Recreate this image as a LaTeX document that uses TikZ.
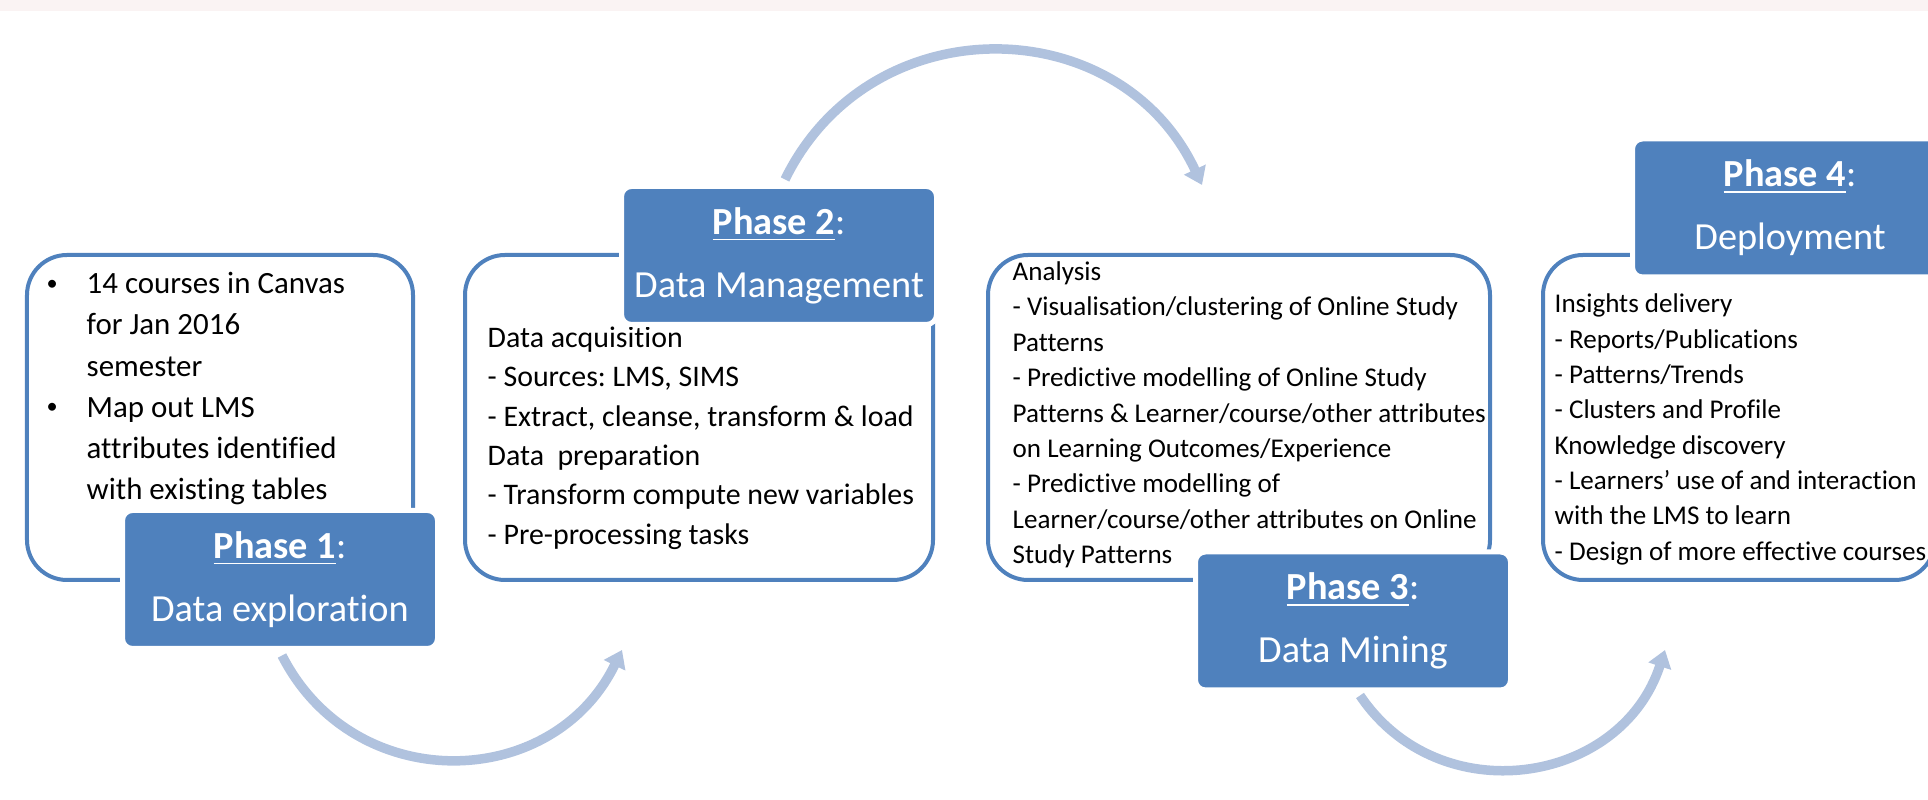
\documentclass[tikz,border=0pt]{standalone}
\usepackage{fontspec}
\setmainfont{Carlito}[Ligatures={NoCommon}]
\usepackage{xcolor}
\usetikzlibrary{arrows.meta}

\definecolor{phaseblue}{RGB}{79,129,189}
\definecolor{flowblue}{RGB}{176,194,222}
\definecolor{topband}{RGB}{250,243,243}

\newcommand{\dotitem}{\raisebox{0.12em}{\scalebox{0.72}{\textbullet}}}
\frenchspacing

\begin{document}
\begin{tikzpicture}[>={Triangle[length=1.7mm,width=2.3mm]},thin]

                \tikzset{card/.style={draw=phaseblue, line width=0.4mm, rounded corners=0.4cm, fill=white, inner sep=0pt, minimum height=3.25cm},
                         phase/.style={draw=white, line width=0.5mm, fill=phaseblue, rounded corners=0.1cm, text=white, align=center, inner sep=0pt, minimum width=3.15cm, minimum height=1.38cm, font=\fontsize{10.9}{17.9}\selectfont},
                         body/.style={anchor=north west, inner sep=0pt},
                         flow/.style={->, draw=flowblue, line width=0.95mm}}

                \useasboundingbox (0,0) rectangle (19.28,8);
                \clip (0,0) rectangle (19.28,8);
                \fill[topband] (0,7.89) rectangle (19.28,8);

                \node[card, minimum width=3.86cm] (b1) at (2.20,3.825) {};
                \node[card, minimum width=4.68cm] (b2) at (6.99,3.825) {};
                \node[card, minimum width=5.02cm] (b3) at (12.39,3.825) {};
                \node[card, minimum width=3.92cm] (b4) at (17.39,3.825) {};

                \node[body, font=\fontsize{8.8}{11.7}\selectfont] (t1) at (0.46,5.357) {\begin{tabular}{@{}p{0.40cm}@{}l@{}}
                    \dotitem & 14 courses in Canvas\\
                             & for Jan 2016\\
                             & semester\\
                    \dotitem & Map out LMS\\
                             & attributes identified\\
                             & with existing tables
                \end{tabular}};
                \node[body, font=\fontsize{8.5}{11.18}\selectfont] (t2) at (4.87,4.805) {\begin{tabular}{@{}l@{}}
                    Data acquisition\\
                    - Sources: LMS, SIMS\\
                    - Extract, cleanse, transform \& load\\
                    Data\ \ preparation\\
                    - Transform compute new variables\\
                    - Pre-processing tasks
                \end{tabular}};
                \node[body, font=\fontsize{7.7}{10.06}\selectfont] (t3) at (10.12,5.448) {\begin{tabular}{@{}l@{}}
                    Analysis\\
                    - Visualisation/clustering of Online Study\\
                    Patterns\\
                    - Predictive modelling of Online Study\\
                    Patterns \& Learner/course/other attributes\\
                    on Learning Outcomes/Experience\\
                    - Predictive modelling of\\
                    Learner/course/other attributes on Online\\
                    Study Patterns
                \end{tabular}};
                \node[body, font=\fontsize{7.7}{10.06}\selectfont] (t4) at (15.54,5.127) {\begin{tabular}{@{}l@{}}
                    Insights delivery\\
                    - Reports/Publications\\
                    - Patterns/Trends\\
                    - Clusters and Profile\\
                    Knowledge discovery\\
                    - Learners’ use of and interaction\\
                    with the LMS to learn\\
                    - Design of more effective courses
                \end{tabular}};

                \node[phase] (p1) at (2.80,2.205) {\underline{\textbf{Phase 1}}:\\ Data exploration};
                \node[phase] (p2) at (7.79,5.445) {\underline{\textbf{Phase 2}}:\\ Data Management};
                \node[phase] (p3) at (13.53,1.79) {\underline{\textbf{Phase 3}}:\\ Data Mining};
                \node[phase] (p4) at (17.90,5.92) {\underline{\textbf{Phase 4}}:\\ Deployment};

                \coordinate (e1) at (6.22,1.50);
                \coordinate (e2) at (12.02,6.15);
                \coordinate (e3) at (16.65,1.50);

                \draw[flow] ([shift={(0.02,-0.045)}]p1.south) to[out=-63,in=-116,looseness=1.19] (e1);
                \draw[flow] ([shift={(0.06,0.045)}]p2.north) to[out=64,in=115,looseness=1.19] (e2);
                \draw[flow] ([shift={(0.07,-0.03)}]p3.south) to[out=-56,in=-108,looseness=1.18] (e3);
            \end{tikzpicture}
\end{document}
